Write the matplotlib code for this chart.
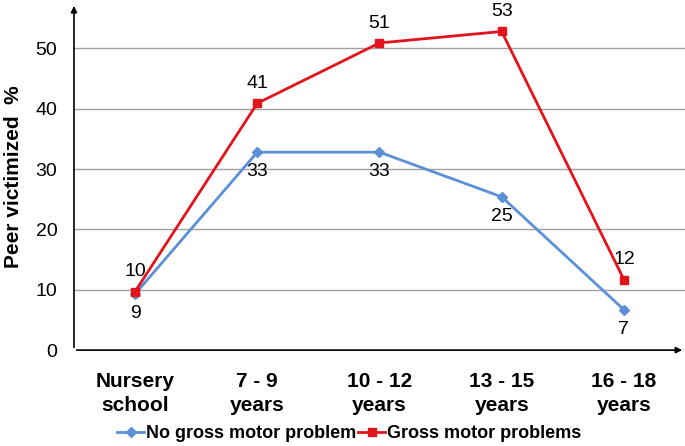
import matplotlib.pyplot as plt

plt.rcParams['font.family'] = ['Liberation Sans', 'DejaVu Sans']

categories = ["Nursery\nschool", "7 - 9\nyears", "10 - 12\nyears", "13 - 15\nyears", "16 - 18\nyears"]
no_gross = [9.3, 32.8, 32.8, 25.4, 6.7]
gross = [9.7, 40.9, 50.9, 52.8, 11.7]
no_gross_labels = ["9", "33", "33", "25", "7"]
gross_labels = ["10", "41", "51", "53", "12"]
yticks = [0, 10, 20, 30, 40, 50]

blue = "#5b8fd6"
red = "#e2141b"

fig = plt.figure(figsize=(6.85, 4.46), dpi=100)
ax = fig.add_axes([0.108, 0.215, 0.892, 0.778])

x = list(range(len(categories)))
ax.plot(x, no_gross, color=blue, marker="D", markersize=5, linewidth=2,
        label="No gross motor problem", zorder=3)
ax.plot(x, gross, color=red, marker="s", markersize=6, linewidth=2,
        label="Gross motor problems", zorder=4)

# data labels: red above, blue below
for xi, v, t in zip(x, gross, gross_labels):
    ax.annotate(t, (xi, v), xytext=(0, 8), textcoords="offset points",
                ha="center", va="bottom", fontsize=14)
for xi, v, t in zip(x, no_gross, no_gross_labels):
    ax.annotate(t, (xi, v), xytext=(0, -8), textcoords="offset points",
                ha="center", va="top", fontsize=14)

ax.set_xlim(-0.5, 4.5)
ax.set_ylim(0, 57.5)
ax.set_yticks(yticks)
ax.set_xticks(x)
ax.set_xticklabels(categories, fontweight="bold", linespacing=1.3)
ax.tick_params(axis="both", length=0, labelsize=14)
ax.tick_params(axis="x", pad=16, labelsize=15)
ax.tick_params(axis="y", pad=12)

ax.grid(axis="y", color="#a0a0a0", linewidth=1)
ax.set_axisbelow(True)
for s in ax.spines.values():
    s.set_visible(False)

# axes with arrow heads
ax.annotate("", xy=(1.0, 0), xytext=(0, 0), xycoords="axes fraction",
            arrowprops=dict(arrowstyle="-|>", color="black", lw=1.2, mutation_scale=9),
            annotation_clip=False)
ax.annotate("", xy=(0, 1.0), xytext=(0, 0), xycoords="axes fraction",
            arrowprops=dict(arrowstyle="-|>", color="black", lw=1.2, mutation_scale=9),
            annotation_clip=False)

ax.set_ylabel("Peer victimized  %", fontsize=15, fontweight="bold", labelpad=9)

fig.legend(loc="center", bbox_to_anchor=(0.51, 0.028), ncol=2, frameon=False,
           prop={"weight": "bold", "size": 13}, handlelength=1.5,
           handletextpad=0.1, columnspacing=0.1)

fig.savefig("out.png", dpi=100)
